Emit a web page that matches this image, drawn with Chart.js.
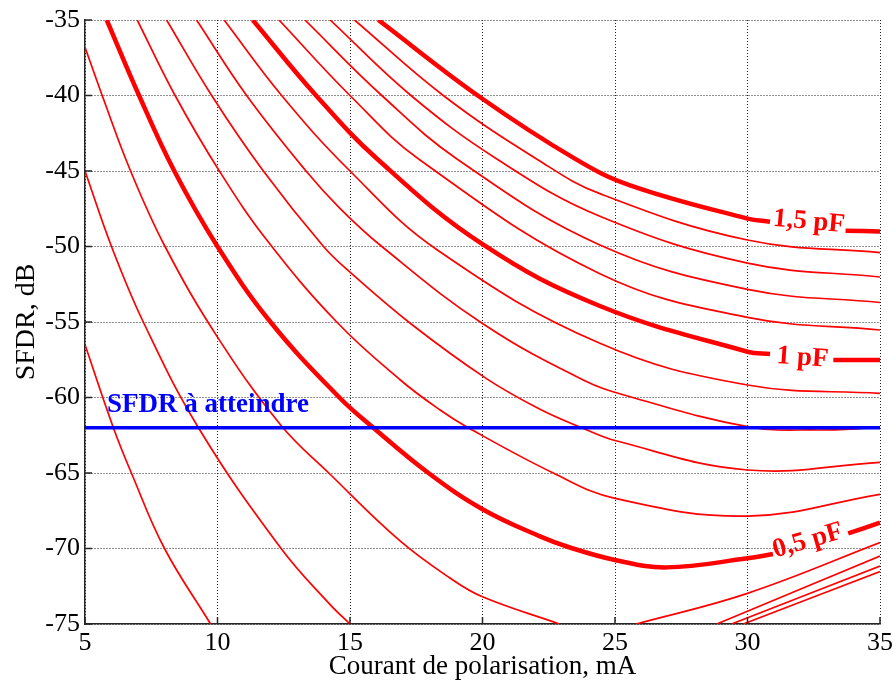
<!DOCTYPE html>
<html lang="fr">
<head>
    <meta charset="UTF-8">
    <title>SFDR en fonction du courant de polarisation</title>
    <script src="https://cdn.jsdelivr.net/npm/chart.js"></script>
    <style>
        html, body { margin: 0; padding: 0; background: #fff; }
        canvas { display: block; }
    </style>
</head>
<body>
    <canvas id="sfdrChart" width="893" height="683"></canvas>

    <script>
        // Graduations des axes
        const xTicks = [5, 10, 15, 20, 25, 30, 35];
        const yTicks = [-75, -70, -65, -60, -55, -50, -45, -40, -35];

        // Capacités (pF) de chaque courbe
        const capacites = [0.1, 0.2, 0.3, 0.4, 0.5, 0.6, 0.7, 0.8, 0.9, 1.0, 1.1, 1.2, 1.3, 1.4, 1.5];

        // Courbes [courant mA, SFDR dB] ; null = coupure (hors cadre ou étiquette)
        const c01 = [[29.84, -75], [35, -71.53]];
        const c02 = [[5, -56.5], [6.07, -62], [6.75, -65], [8.0, -70], [9.74, -75], null,
                     [29.4, -75], [35, -71.16]];
        const c03 = [[5, -45], [6.0, -50], [7.2, -55], [9.28, -62], [12.4, -70], [14.24, -73.7], [15.0, -75], null,
                     [28.84, -75], [35, -70.5]];
        const c04 = [[5, -36.8], [5.69, -40.2], [6.72, -45], [8.02, -50], [10, -56.0], [12.4, -61.85], [14.2, -65],
                     [16.89, -69.5], [18.77, -71.95], [20, -73.2], [22.9, -75], null,
                     [25.8, -75], [30, -72.97], [35, -69.61]];
        const c05 = [[5.82, -35], [7.04, -40], [8.37, -45], [10, -50], [12.0, -55], [14.6, -60], [15.88, -62],
                     [17.96, -65], [20, -67.4], [22.17, -69.2], [23.24, -69.9], [25, -70.76], [26.95, -71.25],
                     [30, -70.65], [30.96, -70.37], null, [33.8, -69.0], [35, -68.29]];
        const c06 = [[6.97, -35], [8.40, -40], [10.07, -45], [11.86, -49.57], [14.5, -55], [16.9, -58.84],
                     [18.4, -60.83], [19.46, -62], [22.67, -65], [25, -66.68], [30, -67.85], [35, -66.41]];
        const c07 = [[8.08, -35], [9.78, -40], [11.73, -45], [14.0, -50], [15, -51.7], [17.32, -55.15],
                     [20.15, -58.75], [22.17, -60.78], [23.74, -62], [25, -62.85], [30, -64.8], [35, -64.29]];
        const c08 = [[9.21, -35], [11.10, -40], [13.34, -45], [14.62, -47.47], [16.2, -50], [20, -55.1],
                     [23.8, -58.84], [25.57, -59.95], [30, -61.93], [32.5, -62.15], [35, -62.0]];
        const c09 = [[10.25, -35], [12.42, -40], [15, -45], [18.27, -50.2], [24.43, -56.41], [30, -59.17], [35, -59.73]];
        const c10 = [[11.33, -35], [13.72, -40], [16.07, -44.27], [20, -49.85], [24.43, -53.94], [30, -56.97],
                     [30.85, -57.12], null, [33.24, -57.52], [35, -57.52]];
        const c11 = [[12.32, -35], [15.0, -40], [17.64, -44.27], [24.43, -51.8], [30, -54.69], [35, -55.53]];
        const c12 = [[13.30, -35], [16.2, -40], [19.09, -44.27], [24.43, -49.9], [30, -52.84], [35, -53.71]];
        const c13 = [[14.25, -35], [17.3, -40], [20.6, -44.27], [24.43, -48.0], [30, -51.1], [35, -52.02]];
        const c14 = [[15.17, -35], [18.52, -40], [22.1, -44.27], [24.43, -46.5], [30, -49.57], [35, -50.41]];
        const c15 = [[16.07, -35], [19.9, -40.1], [23.5, -44.2], [25.57, -45.95], [30, -48.15], [30.85, -48.36], null,
                     [33.7, -48.95], [35, -49.0]];

        const courbes = [c01, c02, c03, c04, c05, c06, c07, c08, c09, c10, c11, c12, c13, c14, c15];

        // Objectif de SFDR
        const sfdrCible = -62;

        // Étiquettes posées sur les courbes
        const libelles = [
            { texte: '1,5 pF', x: 32.32, y: -48.38, angle: 5, couleur: '#ff0000', align: 'center', base: 'middle' },
            { texte: '1 pF', x: 32.08, y: -57.38, angle: 4, couleur: '#ff0000', align: 'center', base: 'middle' },
            { texte: '0,5 pF', x: 32.28, y: -69.5, angle: -16, couleur: '#ff0000', align: 'center', base: 'middle' },
            { texte: 'SFDR à atteindre', x: 5.83, y: -60.93, angle: 0, couleur: '#0000ff', align: 'left', base: 'alphabetic' }
        ];

        const police = '"Liberation Serif", "Times New Roman", serif';

        // null -> point sans valeur pour couper le tracé
        function versPoints(courbe) {
            return courbe.map((p, i) => p
                ? { x: p[0], y: p[1] }
                : { x: (courbe[i - 1][0] + courbe[i + 1][0]) / 2, y: null });
        }

        const datasets = [{
            label: 'SFDR à atteindre',
            data: [{ x: xTicks[0], y: sfdrCible }, { x: xTicks[xTicks.length - 1], y: sfdrCible }],
            borderColor: '#0000ff',
            borderWidth: 3.5,
            pointRadius: 0,
            order: 0
        }].concat(courbes.map((c, i) => ({
            label: capacites[i] + ' pF',
            data: versPoints(c),
            borderColor: '#ff0000',
            borderWidth: (i + 1) % 5 === 0 ? 4.5 : 1.7,
            pointRadius: 0,
            tension: 0.4,
            spanGaps: false,
            clip: 0,
            order: 1
        })));

        // Petites graduations tournées vers l'intérieur (style MATLAB)
        const graduations = {
            id: 'graduations',
            afterDraw(chart) {
                const { ctx, chartArea: a, scales: { x, y } } = chart;
                ctx.save();
                ctx.strokeStyle = '#262626';
                ctx.lineWidth = 1.5;
                ctx.beginPath();
                xTicks.forEach(v => {
                    const px = x.getPixelForValue(v);
                    ctx.moveTo(px, a.bottom);
                    ctx.lineTo(px, a.bottom - 7);
                });
                yTicks.forEach(v => {
                    const py = y.getPixelForValue(v);
                    ctx.moveTo(a.left, py);
                    ctx.lineTo(a.left + 7, py);
                });
                ctx.stroke();
                ctx.restore();
            }
        };

        const etiquettes = {
            id: 'etiquettes',
            afterDatasetsDraw(chart) {
                const { ctx, scales: { x, y } } = chart;
                libelles.forEach(l => {
                    ctx.save();
                    ctx.translate(x.getPixelForValue(l.x), y.getPixelForValue(l.y));
                    ctx.rotate(l.angle * Math.PI / 180);
                    ctx.font = 'bold 27px ' + police;
                    ctx.fillStyle = l.couleur;
                    ctx.textAlign = l.align;
                    ctx.textBaseline = l.base;
                    ctx.fillText(l.texte, 0, 0);
                    ctx.restore();
                });
            }
        };

        const config = {
            type: 'line',
            data: { datasets },
            options: {
                responsive: false,
                animation: false,
                layout: { padding: { top: 20, right: 13, left: 0, bottom: 0 } },
                plugins: { legend: { display: false }, tooltip: { enabled: false } },
                scales: {
                    x: {
                        type: 'linear',
                        min: 5,
                        max: 35,
                        afterBuildTicks: s => { s.ticks = xTicks.map(v => ({ value: v })); },
                        afterFit: s => { s.height = 59; s.paddingLeft = 0; s.paddingRight = 0; },
                        grid: { color: '#222', lineWidth: 1, drawTicks: false },
                        border: { display: true, color: '#262626', width: 1.5, dash: [1, 2] },
                        ticks: { padding: 4, color: '#000', maxRotation: 0, font: { family: police, size: 26 } },
                        title: {
                            display: true,
                            text: 'Courant de polarisation, mA',
                            color: '#000',
                            font: { family: police, size: 27 },
                            padding: { top: 0, bottom: 0 }
                        }
                    },
                    y: {
                        type: 'linear',
                        min: -75,
                        max: -35,
                        afterBuildTicks: s => { s.ticks = yTicks.map(v => ({ value: v })); },
                        afterFit: s => { s.width = 85; s.paddingTop = 0; s.paddingBottom = 0; },
                        grid: { color: '#222', lineWidth: 1, drawTicks: false },
                        border: { display: true, color: '#262626', width: 1.5, dash: [1, 2] },
                        ticks: { padding: 5, color: '#000', font: { family: police, size: 26 } },
                        title: {
                            display: true,
                            text: 'SFDR, dB',
                            color: '#000',
                            font: { family: police, size: 28 },
                            padding: { top: 10, bottom: 0 }
                        }
                    }
                }
            },
            plugins: [etiquettes, graduations]
        };

        const sfdrChart = new Chart(document.getElementById('sfdrChart'), config);
    </script>
</body>
</html>
